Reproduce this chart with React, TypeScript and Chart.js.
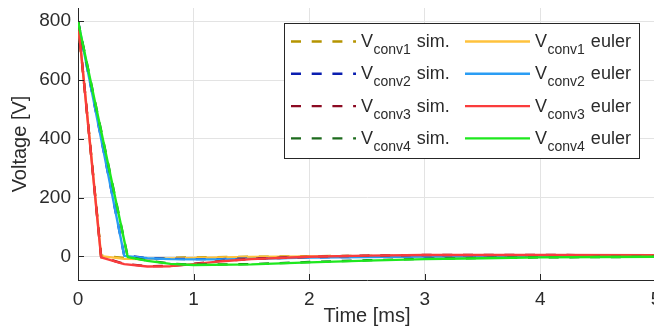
import React, { useEffect, useRef } from 'react';
import { Chart, registerables } from 'chart.js';

Chart.register(...registerables);

// ---- data ----
const xTicks = [0, 1, 2, 3, 4, 5];
const yTicks = [0, 200, 400, 600, 800];

const tConv1 = [0, 0.2, 0.4, 0.6, 0.8, 1.0, 1.5, 2.0, 2.5, 3.0, 4.0, 5.0];
const simConv1 = [800, 3, -5, -7, -5, -3, -1, 1, 2, 2, 2, 1];
const eulerConv1 = [800, 1, -8, -9, -7, -5, -2, 0, 1, 1, 1, 1];

const tConv2 = [0, 0.2, 0.4, 0.6, 0.8, 1.0, 1.25, 1.5, 2.0, 2.5, 3.0, 4.0, 5.0];
const simConv2 = [800, 402, 3, -5, -8, -9, -9, -7, -3, -1, 0, 1, 1];
const eulerConv2 = [800, 400, 2, -6, -9, -10, -10, -8, -4, -2, 0, 1, 1];

const tConv3 = [0, 0.2, 0.4, 0.6, 0.8, 1.0, 1.25, 1.5, 2.0, 2.5, 3.0, 4.0, 5.0];
const simConv3 = [800, -2, -25, -33, -32, -25, -15, -8, -1, 3, 5, 5, 4];
const eulerConv3 = [800, -3, -26, -34, -33, -26, -16, -9, -1, 3, 5, 5, 4];

const tConv4 = [0, 0.2, 0.43, 0.6, 0.8, 1.0, 1.5, 2.0, 2.5, 3.0, 3.5, 4.0, 4.5, 5.0];
const simConv4 = [800, 428, -1, -14, -24, -28, -26, -19, -13, -8, -5, -3, -2, -1];
const eulerConv4 = [800, 427, -2, -15, -25, -29, -27, -20, -14, -9, -6, -3, -2, -1];

const convNames = ['conv1', 'conv2', 'conv3', 'conv4'];
const simColors = ['#b59400', '#0a1eb0', '#8c0a22', '#1d6b1d'];
const eulerColors = ['#ffc23c', '#2a9df4', '#fa3c3c', '#1ee81e'];
const simSuffix = 'sim.';
const eulerSuffix = 'euler';
const xTitle = 'Time [ms]';
const yTitle = 'Voltage [V]';

const FONT = '"Liberation Sans", Arial, Helvetica, sans-serif';
const TEXT = '#2b2b2b';
const DASH = [10, 10.7];
const LW = 2.4;

const toPts = (t: number[], v: number[]) => t.map((x, i) => ({ x, y: v[i] }));

const legendPlugin = {
  id: 'subLegend',
  afterDraw(chart: any) {
    const { ctx, chartArea } = chart;
    const boxW = 355;
    const boxH = 135;
    const x0 = Math.round(chartArea.right - 17 - boxW);
    const y0 = Math.round(chartArea.top + 15);
    ctx.save();
    ctx.fillStyle = '#ffffff';
    ctx.fillRect(x0, y0, boxW, boxH);
    ctx.strokeStyle = '#262626';
    ctx.lineWidth = 1;
    ctx.strokeRect(x0 + 0.5, y0 + 0.5, boxW, boxH);
    const cols = [
      { off: 7, colors: simColors, dash: DASH, suffix: simSuffix },
      { off: 181, colors: eulerColors, dash: [] as number[], suffix: eulerSuffix },
    ];
    for (let r = 0; r < 4; r++) {
      const cy = y0 + 18.5 + r * 32.3;
      for (const c of cols) {
        const lx = x0 + c.off;
        ctx.beginPath();
        ctx.setLineDash(c.dash);
        ctx.strokeStyle = c.colors[r];
        ctx.lineWidth = LW;
        ctx.moveTo(lx, cy);
        ctx.lineTo(lx + 65, cy);
        ctx.stroke();
        ctx.setLineDash([]);
        ctx.fillStyle = TEXT;
        ctx.textAlign = 'left';
        ctx.textBaseline = 'alphabetic';
        let tx = lx + 70;
        ctx.font = `18px ${FONT}`;
        ctx.fillText('V', tx, cy + 5.5);
        tx += ctx.measureText('V').width + 0.5;
        ctx.font = `14px ${FONT}`;
        ctx.fillText(convNames[r], tx, cy + 12.5);
        tx += ctx.measureText(convNames[r]).width + 6;
        ctx.font = `18px ${FONT}`;
        ctx.fillText(c.suffix, tx, cy + 5.5);
      }
    }
    ctx.restore();
  },
};

const innerTicksPlugin = {
  id: 'innerTicks',
  afterDatasetsDraw(chart: any) {
    const { ctx, chartArea, scales } = chart;
    ctx.save();
    ctx.strokeStyle = '#262626';
    ctx.lineWidth = 1;
    ctx.beginPath();
    for (const v of yTicks) {
      const y = Math.round(scales.y.getPixelForValue(v)) + 0.5;
      ctx.moveTo(chartArea.left, y);
      ctx.lineTo(chartArea.left + 6, y);
    }
    for (const v of xTicks) {
      const x = Math.round(scales.x.getPixelForValue(v)) + 0.5;
      ctx.moveTo(x, chartArea.bottom);
      ctx.lineTo(x, chartArea.bottom - 6);
    }
    ctx.stroke();
    ctx.restore();
  },
};

export default function App() {
  const ref = useRef<HTMLCanvasElement>(null);
  useEffect(() => {
    if (!ref.current) return;
    const simSets = [
      toPts(tConv1, simConv1),
      toPts(tConv2, simConv2),
      toPts(tConv3, simConv3),
      toPts(tConv4, simConv4),
    ];
    const eulerSets = [
      toPts(tConv1, eulerConv1),
      toPts(tConv2, eulerConv2),
      toPts(tConv3, eulerConv3),
      toPts(tConv4, eulerConv4),
    ];
    const datasets: any[] = [];
    for (let i = 0; i < 4; i++) {
      datasets.push({
        label: `V${convNames[i]} ${simSuffix}`,
        data: simSets[i],
        borderColor: simColors[i],
        borderDash: DASH,
        borderWidth: LW,
        pointRadius: 0,
        fill: false,
        order: 8 - 2 * i,
      });
      datasets.push({
        label: `V${convNames[i]} ${eulerSuffix}`,
        data: eulerSets[i],
        borderColor: eulerColors[i],
        borderWidth: LW,
        pointRadius: 0,
        fill: false,
        order: 7 - 2 * i,
      });
    }
    const tickFont = { family: FONT, size: 19 };
    const titleFont = { family: FONT, size: 20, lineHeight: 1.2 };
    const chart = new Chart(ref.current, {
      type: 'line',
      data: { datasets },
      plugins: [innerTicksPlugin, legendPlugin],
      options: {
        responsive: false,
        animation: false,
        layout: { padding: { top: 8, right: 24, left: 0, bottom: 0 } },
        plugins: { legend: { display: false }, tooltip: { enabled: false } },
        elements: { line: { tension: 0, borderJoinStyle: 'round' } },
        scales: {
          x: {
            type: 'linear',
            min: 0,
            max: 5,
            afterBuildTicks: (s: any) => {
              s.ticks = xTicks.map((v) => ({ value: v }));
            },
            afterFit: (s: any) => {
              s.height = 50;
              s.paddingLeft = 0;
              s.paddingRight = 0;
            },
            grid: { color: '#e3e3e3', drawTicks: false },
            border: { color: '#262626', width: 1 },
            ticks: { font: tickFont, color: TEXT, padding: 8, maxRotation: 0, autoSkip: false },
            title: { display: true, text: xTitle, font: titleFont, color: TEXT, padding: { top: 0, bottom: 2 } },
          },
          y: {
            type: 'linear',
            min: -80,
            max: 845,
            afterBuildTicks: (s: any) => {
              s.ticks = yTicks.map((v) => ({ value: v }));
            },
            afterFit: (s: any) => {
              s.width = 78;
              s.paddingTop = 0;
              s.paddingBottom = 0;
            },
            grid: { color: '#e3e3e3', drawTicks: false },
            border: { color: '#262626', width: 1 },
            ticks: { font: tickFont, color: TEXT, padding: 7, autoSkip: false },
            title: { display: true, text: yTitle, font: titleFont, color: TEXT, padding: { top: 8, bottom: 0 } },
          },
        },
      },
    });
    return () => chart.destroy();
  }, []);
  return (
    <div style={{ position: 'fixed', left: 0, top: 0, width: 654, height: 330, overflow: 'hidden', background: '#fff' }}>
      <canvas ref={ref} width={680} height={330} style={{ display: 'block' }} />
    </div>
  );
}
